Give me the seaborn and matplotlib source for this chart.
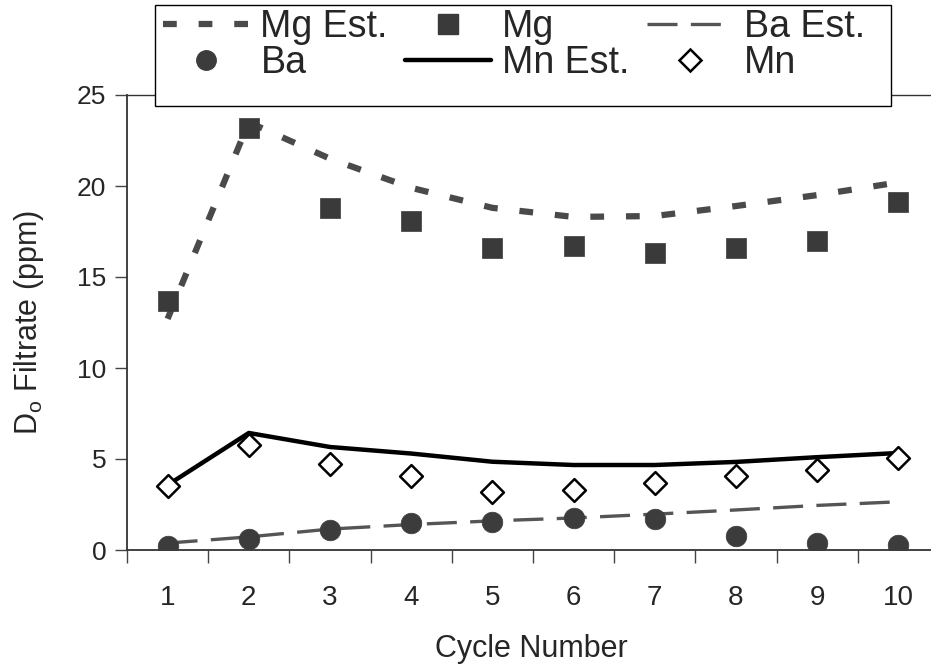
import matplotlib
matplotlib.use("Agg")
import matplotlib.pyplot as plt
import seaborn as sns
import numpy as np
import pandas as pd
from matplotlib.lines import Line2D
from matplotlib.patches import Rectangle

sns.set_style("white")
plt.rcParams['font.family'] = ['Liberation Sans', 'DejaVu Sans']
plt.rcParams['mathtext.fontset'] = 'custom'
plt.rcParams['mathtext.rm'] = 'Liberation Sans'

cycles = [1, 2, 3, 4, 5, 6, 7, 8, 9, 10]
mg = [13.7, 23.2, 18.8, 18.1, 16.6, 16.7, 16.3, 16.6, 17.0, 19.1]
mg_est = [12.7, 23.5, 21.5, 19.9, 18.8, 18.3, 18.35, 18.9, 19.5, 20.2]
ba = [0.22, 0.6, 1.1, 1.48, 1.54, 1.76, 1.7, 0.77, 0.4, 0.27]
ba_est = [0.38, 0.72, 1.15, 1.4, 1.6, 1.76, 1.97, 2.2, 2.45, 2.65]
mn = [3.52, 5.77, 4.72, 4.05, 3.2, 3.3, 3.7, 4.07, 4.4, 5.05]
mn_est = [3.57, 6.43, 5.66, 5.3, 4.85, 4.67, 4.67, 4.84, 5.1, 5.33]
yticks = [0, 5, 10, 15, 20, 25]

df = pd.DataFrame({"cycle": cycles, "mg": mg, "mg_est": mg_est, "ba": ba,
                   "ba_est": ba_est, "mn": mn, "mn_est": mn_est})

W, H = 931, 669
fig = plt.figure(figsize=(W / 100, H / 100), dpi=100)
ax = fig.add_axes([127 / W, 119 / H, 812 / W, 455 / H])

mg_col = "#3a3a3a"
ba_col = "#3c3c3c"
mg_ls = (0, (2.2, 3.5))
ba_ls = (0, (9, 4))

sns.lineplot(data=df, x="cycle", y="mg_est", ax=ax, color="#4a4a4a", linewidth=4.5,
             linestyle=mg_ls, zorder=2)
sns.lineplot(data=df, x="cycle", y="ba_est", ax=ax, color="#555555", linewidth=2.4,
             linestyle=ba_ls, zorder=2)
sns.lineplot(data=df, x="cycle", y="mn_est", ax=ax, color="black", linewidth=3.2,
             linestyle="-", zorder=2)
sns.scatterplot(data=df, x="cycle", y="mg", ax=ax, marker="s", s=210, color=mg_col,
                edgecolor=mg_col, linewidth=0.5, zorder=3)
sns.scatterplot(data=df, x="cycle", y="ba", ax=ax, marker="o", s=220, color=ba_col,
                edgecolor=ba_col, linewidth=0.5, zorder=3)
sns.scatterplot(data=df, x="cycle", y="mn", ax=ax, marker="D", s=135, color="white",
                edgecolor="black", linewidth=1.8, zorder=4)

ax.set_xlim(0.5, 10.5)
ax.set_ylim(0, 25)
ax.set_yticks(yticks)
ax.set_yticklabels([str(v) for v in yticks], fontsize=19)
ax.set_xticks(np.arange(0.5, 11, 1.0))
ax.set_xticklabels([])
ax.set_xticks(cycles, minor=True)
ax.set_xticklabels([str(c) for c in cycles], minor=True, fontsize=20)
ax.tick_params(axis="x", which="major", direction="out", length=9, width=1, color="#444")
ax.tick_params(axis="x", which="minor", length=0, pad=25)
ax.tick_params(axis="y", direction="out", length=9, width=1, color="#444", pad=6)
ax.yaxis.set_ticks_position("left")
ax.xaxis.set_ticks_position("bottom")

for side in ["left", "bottom", "top"]:
    ax.spines[side].set_color("#333333")
    ax.spines[side].set_linewidth(1.3)
ax.spines["top"].set_linewidth(1.0)
ax.spines["top"].set_linestyle((0, (1.5, 1)))
ax.spines["right"].set_visible(False)

ax.set_xlabel("Cycle Number", fontsize=22)
ax.set_ylabel(r"D$_\mathregular{o}$ Filtrate (ppm)", fontsize=22)
ax.xaxis.set_label_coords((531 - 127) / 812, -0.185)
ax.yaxis.set_label_coords((46 - 127) / 812, 0.5)

# legend frame
fig.patches.append(Rectangle((155 / W, 1 - 106 / H), 736 / W, 101 / H,
                             transform=fig.transFigure, facecolor="white",
                             edgecolor="black", linewidth=1.0, zorder=1))

handles = [
    Line2D([], [], color="#4a4a4a", lw=4.5, linestyle=mg_ls),
    Line2D([], [], marker="o", ms=14, color=ba_col, lw=0),
    Line2D([], [], marker="s", ms=14, color=mg_col, lw=0),
    Line2D([], [], color="black", lw=3.2),
    Line2D([], [], color="#555555", lw=2.4, linestyle=ba_ls),
    Line2D([], [], marker="D", ms=11, mfc="white", mec="black", mew=1.8, lw=0),
]
labels = ["Mg Est.", "Ba", "Mg", "Mn Est.", "Ba Est.", "Mn"]
leg = fig.legend(handles, labels, ncol=3, loc="upper left",
                 bbox_to_anchor=(163 / W, 1 - 9 / H), fontsize=27,
                 frameon=False,
                 handlelength=2.3, handletextpad=0.3, columnspacing=0.45,
                 labelspacing=0.0, borderpad=0.0, borderaxespad=0)

fig.savefig("out.png", dpi=100)
